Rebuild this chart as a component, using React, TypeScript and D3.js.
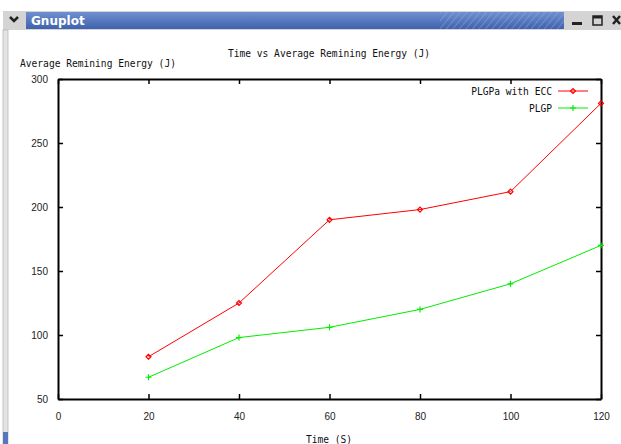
import React, { useEffect, useRef } from 'react';
import * as d3 from 'd3';

// Chart data
const times = [20, 40, 60, 80, 100, 120];
const eccEnergy = [83, 125, 190, 198, 212, 281];
const plgpEnergy = [67, 98, 106, 120, 140, 170];
const xTicks = [0, 20, 40, 60, 80, 100, 120];
const yTicks = [50, 100, 150, 200, 250, 300];

const seriesNames = ['PLGPa with ECC', 'PLGP'];
const seriesColors = ['#ff0000', '#00ee00'];

const App = () => {
  const anchor = useRef<SVGSVGElement>(null);

  useEffect(() => {
    const W = 621;
    const H = 444;
    const margin = { top: 79, right: 20, bottom: 45, left: 58 };
    const width = W - margin.left - margin.right;
    const height = H - margin.top - margin.bottom;

    const svg = d3.select(anchor.current);
    svg.selectAll('*').remove();

    // Window frame
    const defs = svg.append('defs');
    const grad = defs
      .append('linearGradient')
      .attr('id', 'tbar')
      .attr('x1', 0)
      .attr('y1', 0)
      .attr('x2', 0)
      .attr('y2', 1);
    grad.append('stop').attr('offset', '0%').attr('stop-color', '#6f8fd0');
    grad.append('stop').attr('offset', '100%').attr('stop-color', '#3f62ad');

    const stripes = defs
      .append('pattern')
      .attr('id', 'stripes')
      .attr('width', 5)
      .attr('height', 5)
      .attr('patternUnits', 'userSpaceOnUse')
      .attr('patternTransform', 'rotate(40)');
    stripes
      .append('line')
      .attr('x1', 0)
      .attr('y1', 0)
      .attr('x2', 0)
      .attr('y2', 5)
      .attr('stroke', '#9fb3de')
      .attr('stroke-width', 1.2);

    svg.append('rect').attr('width', W).attr('height', H).attr('fill', '#fff');
    svg
      .append('rect')
      .attr('x', 3)
      .attr('y', 11)
      .attr('width', 618)
      .attr('height', 19)
      .attr('fill', '#d4d4d4');
    svg
      .append('rect')
      .attr('x', 26)
      .attr('y', 12)
      .attr('width', 538)
      .attr('height', 17)
      .attr('fill', 'url(#tbar)');
    svg
      .append('rect')
      .attr('x', 440)
      .attr('y', 12)
      .attr('width', 124)
      .attr('height', 17)
      .attr('fill', 'url(#stripes)')
      .attr('opacity', 0.7);
    svg
      .append('path')
      .attr('d', 'M10,17 L14,21 L18,17')
      .attr('fill', 'none')
      .attr('stroke', '#222')
      .attr('stroke-width', 2.5);
    svg
      .append('text')
      .attr('x', 31)
      .attr('y', 25)
      .style('font-family', 'DejaVu Sans')
      .style('font-weight', 'bold')
      .style('font-size', '12px')
      .style('fill', '#fff')
      .text('Gnuplot');

    // Window buttons
    svg
      .append('rect')
      .attr('x', 572)
      .attr('y', 22)
      .attr('width', 10)
      .attr('height', 3)
      .attr('fill', '#222');
    svg
      .append('rect')
      .attr('x', 593)
      .attr('y', 16)
      .attr('width', 9)
      .attr('height', 9)
      .attr('fill', 'none')
      .attr('stroke', '#222')
      .attr('stroke-width', 1.5);
    svg
      .append('rect')
      .attr('x', 593)
      .attr('y', 16)
      .attr('width', 9)
      .attr('height', 2.5)
      .attr('fill', '#222');
    svg
      .append('path')
      .attr('d', 'M613,16 L620,24 M620,16 L613,24')
      .attr('stroke', '#222')
      .attr('stroke-width', 2.5);

    // Left border
    svg
      .append('rect')
      .attr('x', 3)
      .attr('y', 30)
      .attr('width', 5)
      .attr('height', H - 30)
      .attr('fill', '#e4e4e4')
      .attr('stroke', '#b8b8b8')
      .attr('stroke-width', 0.8);
    svg
      .append('rect')
      .attr('x', 3)
      .attr('y', 432)
      .attr('width', 5)
      .attr('height', 12)
      .attr('fill', '#5577bb');

    // Scales
    const xScale = d3.scaleLinear().domain([0, 120]).range([0, width]);
    const yScale = d3.scaleLinear().domain([50, 300]).range([height, 0]);

    const g = svg
      .append('g')
      .attr('transform', `translate(${margin.left}, ${margin.top})`);

    const mono = 'DejaVu Sans Mono';
    const tickFont = 'Liberation Sans';

    // Axes with mirrored ticks
    const bottom = g
      .append('g')
      .attr('transform', `translate(0,${height})`)
      .call(d3.axisBottom(xScale).tickValues(xTicks).tickSizeInner(-5).tickSizeOuter(0).tickPadding(14));
    const top = g
      .append('g')
      .call(d3.axisTop(xScale).tickValues(xTicks).tickSizeInner(-5).tickSizeOuter(0).tickFormat(() => ''));
    const left = g
      .append('g')
      .call(d3.axisLeft(yScale).tickValues(yTicks).tickSizeInner(-5).tickSizeOuter(0).tickPadding(10));
    const right = g
      .append('g')
      .attr('transform', `translate(${width},0)`)
      .call(d3.axisRight(yScale).tickValues(yTicks).tickSizeInner(-5).tickSizeOuter(0).tickFormat(() => ''));

    [bottom, top, left, right].forEach(a => {
      a.select('.domain').attr('stroke', '#000').attr('stroke-width', 2);
      a.selectAll('.tick line').attr('stroke', '#000').attr('stroke-width', 1.5);
      a.selectAll('text')
        .style('font-family', tickFont)
        .style('font-size', '10px')
        .style('fill', '#222');
    });
    bottom.selectAll('.tick text').attr('dy', '0.71em');

    // Titles
    svg
      .append('text')
      .attr('x', 329)
      .attr('y', 57)
      .attr('text-anchor', 'middle')
      .style('font-family', mono)
      .style('font-size', '9.6px')
      .style('fill', '#111')
      .text('Time vs Average Remining Energy (J)');
    svg
      .append('text')
      .attr('x', 20)
      .attr('y', 67)
      .style('font-family', mono)
      .style('font-size', '9.6px')
      .style('fill', '#111')
      .text('Average Remining Energy (J)');
    svg
      .append('text')
      .attr('x', 329)
      .attr('y', 443)
      .attr('text-anchor', 'middle')
      .style('font-family', mono)
      .style('font-size', '9.6px')
      .style('fill', '#111')
      .text('Time (S)');

    // Lines and points
    const line = d3
      .line<number>()
      .x((d, i) => xScale(times[i]))
      .y(d => yScale(d));

    const series = [eccEnergy, plgpEnergy];
    series.forEach((vals, s) => {
      g.append('path')
        .datum(vals)
        .attr('d', line)
        .attr('fill', 'none')
        .attr('stroke', seriesColors[s])
        .attr('stroke-width', 1);

      const pts = g
        .append('g')
        .selectAll('path')
        .data(vals)
        .enter()
        .append('path')
        .attr('transform', (d, i) => `translate(${xScale(times[i])},${yScale(d)})`)
        .attr('fill', 'none')
        .attr('stroke', seriesColors[s])
        .attr('stroke-width', 1.2);
      if (s === 0) pts.attr('d', 'M-2.5,0 L0,-2.5 L2.5,0 L0,2.5 Z');
      else pts.attr('d', 'M-3,0 L3,0 M0,-3 L0,3');
    });

    // Legend
    const legend = g
      .append('g')
      .attr('transform', `translate(${width - 43}, 12)`);
    seriesNames.forEach((name, s) => {
      const row = legend.append('g').attr('transform', `translate(0,${s * 17})`);
      row
        .append('text')
        .attr('x', -6)
        .attr('y', 3.5)
        .attr('text-anchor', 'end')
        .style('font-family', mono)
        .style('font-size', '9.6px')
        .style('fill', '#111')
        .text(name);
      row
        .append('line')
        .attr('x1', 0)
        .attr('x2', 30)
        .attr('stroke', seriesColors[s]);
      row
        .append('path')
        .attr('transform', 'translate(15,0)')
        .attr('d', s === 0 ? 'M-2.5,0 L0,-2.5 L2.5,0 L0,2.5 Z' : 'M-3,0 L3,0 M0,-3 L0,3')
        .attr('fill', 'none')
        .attr('stroke', seriesColors[s])
        .attr('stroke-width', 1.2);
    });
  }, []);

  return (
    <svg
      ref={anchor}
      width={621}
      height={444}
      style={{ position: 'absolute', left: 0, top: 0, display: 'block' }}
    />
  );
};

export default App;
